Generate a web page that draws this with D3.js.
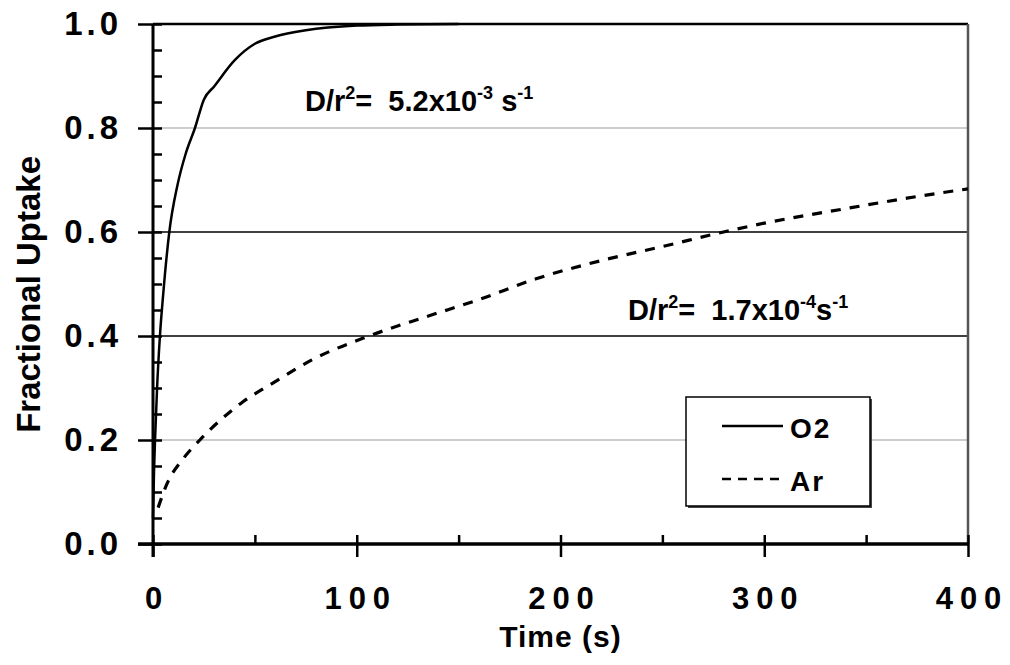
<!DOCTYPE html>
<html>
<head>
<meta charset="utf-8">
<script src="https://cdn.jsdelivr.net/npm/d3@7"></script>
<style>
  body { margin: 0; background: #fff; }
  svg { display: block; font-family: "Liberation Sans", Arial, sans-serif; font-weight: bold; }
  text { white-space: pre; }
</style>
</head>
<body>
<div id="chart"></div>
<script>
// values
var o2Time   = [0, 0.5, 1, 2, 3.4, 5, 8, 12, 16, 20.6, 25, 30, 40, 50, 60, 75, 100, 120, 150];
var o2Uptake = [0.05, 0.14, 0.2, 0.3, 0.4, 0.48, 0.6, 0.69, 0.75, 0.8, 0.855, 0.88, 0.93, 0.962, 0.976, 0.988, 0.997, 0.999, 1.0];

var arTime   = [2.5, 7, 15, 23, 44, 59, 78, 106, 134, 160, 188, 220, 250, 280, 300, 340, 370, 400];
var arUptake = [0.07, 0.117, 0.165, 0.2, 0.273, 0.31, 0.354, 0.4, 0.437, 0.47, 0.51, 0.545, 0.572, 0.6, 0.617, 0.645, 0.665, 0.683];

var xTicks = [0, 100, 200, 300, 400];
var xMinor = [50, 150, 250, 350];
var yTicks = [0, 0.2, 0.4, 0.6, 0.8, 1.0];
var yMinor = d3.range(0, 1.0001, 0.05);

var width = 1010, height = 665;

var svg = d3.select("#chart").append("svg")
    .attr("width", width)
    .attr("height", height);

var x = d3.scaleLinear().domain([0, 400]).range([153, 968]);
var y = d3.scaleLinear().domain([0, 1]).range([544, 24]);

// gridlines (0.2 / 0.8 grey, 0.4 / 0.6 black)
svg.append("g")
    .selectAll("line")
    .data(yTicks.filter(function(d){ return d > 0; }))
    .enter().append("line")
    .attr("x1", x(0)).attr("x2", x(400))
    .attr("y1", function(d){ return y(d); })
    .attr("y2", function(d){ return y(d); })
    .attr("stroke", function(d){ return (Math.abs(d - 0.2) < 1e-6 || Math.abs(d - 0.8) < 1e-6) ? "#bdbdbd" : "#000"; })
    .attr("stroke-width", function(d){ return d === 1 ? 2.5 : 1.5; });

// right border
svg.append("line")
    .attr("x1", x(400)).attr("x2", x(400))
    .attr("y1", y(1)).attr("y2", y(0))
    .attr("stroke", "#555").attr("stroke-width", 2.5);

// curves
var line = d3.line()
    .x(function(d){ return x(d[0]); })
    .y(function(d){ return y(d[1]); })
    .curve(d3.curveMonotoneX);

svg.append("path")
    .datum(d3.zip(o2Time, o2Uptake))
    .attr("d", line)
    .attr("fill", "none")
    .attr("stroke", "#000")
    .attr("stroke-width", 2.5);

svg.append("path")
    .datum(d3.zip(arTime, arUptake))
    .attr("d", line)
    .attr("fill", "none")
    .attr("stroke", "#000")
    .attr("stroke-width", 3.2)
    .attr("stroke-dasharray", "10,9");

// y axis: minor inside, major crossing
var yMinorAxis = svg.append("g")
    .attr("transform", "translate(" + x(0) + ",0)")
    .call(d3.axisLeft(y).tickValues(yMinor).tickSize(-9).tickFormat(""));
yMinorAxis.select(".domain").remove();
yMinorAxis.selectAll("line").attr("stroke-width", 2.5);

var yAxis = svg.append("g")
    .attr("transform", "translate(" + x(0) + ",0)")
    .call(d3.axisLeft(y).tickValues(yTicks).tickSize(15).tickPadding(16).tickFormat(d3.format(".1f")));
yAxis.select(".domain").remove();
yAxis.selectAll("line").attr("stroke-width", 2.5).attr("x2", -15);
yAxis.selectAll("text")
    .attr("font-size", 33)
    .attr("font-family", "Liberation Sans, Arial, sans-serif")
    .attr("font-weight", "bold")
    .attr("letter-spacing", 4)
    .attr("fill", "#000");

// x axis: minor above, major crossing
var xMinorAxis = svg.append("g")
    .attr("transform", "translate(0," + y(0) + ")")
    .call(d3.axisBottom(x).tickValues(xMinor).tickSize(-9).tickFormat(""));
xMinorAxis.select(".domain").remove();
xMinorAxis.selectAll("line").attr("stroke-width", 2.5);

var xAxis = svg.append("g")
    .attr("transform", "translate(0," + y(0) + ")")
    .call(d3.axisBottom(x).tickValues(xTicks).tickSize(13).tickPadding(30).tickFormat(d3.format("d")));
xAxis.select(".domain").remove();
xAxis.selectAll("line").attr("y1", -9).attr("stroke-width", 2.5);
xAxis.selectAll("text")
    .attr("font-size", 31)
    .attr("font-family", "Liberation Sans, Arial, sans-serif")
    .attr("font-weight", "bold")
    .attr("letter-spacing", 7)
    .attr("dx", 3.5)
    .attr("fill", "#000");

// axis lines
svg.append("line")
    .attr("x1", x(0)).attr("x2", x(0))
    .attr("y1", y(1)).attr("y2", y(0) + 13)
    .attr("stroke", "#000").attr("stroke-width", 3);
svg.append("line")
    .attr("x1", x(0) - 15).attr("x2", x(400))
    .attr("y1", y(0)).attr("y2", y(0))
    .attr("stroke", "#000").attr("stroke-width", 3.5);

// axis titles
svg.append("text")
    .attr("x", x(200)).attr("y", 647)
    .attr("text-anchor", "middle")
    .attr("font-size", 30)
    .attr("letter-spacing", 1)
    .text("Time (s)");

svg.append("text")
    .attr("transform", "translate(40," + y(0.48) + ") rotate(-90)")
    .attr("text-anchor", "middle")
    .attr("font-size", 33)
    .text("Fractional Uptake");

// annotations
function annot(px, py, pre, exp1, mid, exp2) {
    var t = svg.append("text").attr("x", px).attr("y", py).attr("font-size", 29);
    t.append("tspan").text("D/r");
    t.append("tspan").attr("font-size", 18).attr("dy", -12).text("2");
    t.append("tspan").attr("dy", 12).text("=" + pre);
    t.append("tspan").attr("font-size", 18).attr("dy", -12).text(exp1);
    t.append("tspan").attr("dy", 12).text(mid);
    t.append("tspan").attr("font-size", 18).attr("dy", -12).text(exp2);
}
annot(305, 111, "  5.2x10", "-3", " s", "-1");
annot(628, 320, "  1.7x10", "-4", "s", "-1");

// legend
var lg = svg.append("g");
lg.append("rect")
    .attr("x", 688).attr("y", 399)
    .attr("width", 184).attr("height", 109)
    .attr("fill", "#444");
lg.append("rect")
    .attr("x", 686).attr("y", 397)
    .attr("width", 184).attr("height", 109)
    .attr("fill", "#fff")
    .attr("stroke", "#000")
    .attr("stroke-width", 1.5);
lg.append("line")
    .attr("x1", 722).attr("x2", 783).attr("y1", 426).attr("y2", 426)
    .attr("stroke", "#000").attr("stroke-width", 2.5);
lg.append("line")
    .attr("x1", 722).attr("x2", 783).attr("y1", 479).attr("y2", 479)
    .attr("stroke", "#000").attr("stroke-width", 2.5)
    .attr("stroke-dasharray", "9,7");
lg.append("text").attr("x", 790).attr("y", 438).attr("font-size", 28).attr("letter-spacing", 2).text("O2");
lg.append("text").attr("x", 790).attr("y", 491).attr("font-size", 28).attr("letter-spacing", 2).text("Ar");
</script>
</body>
</html>
